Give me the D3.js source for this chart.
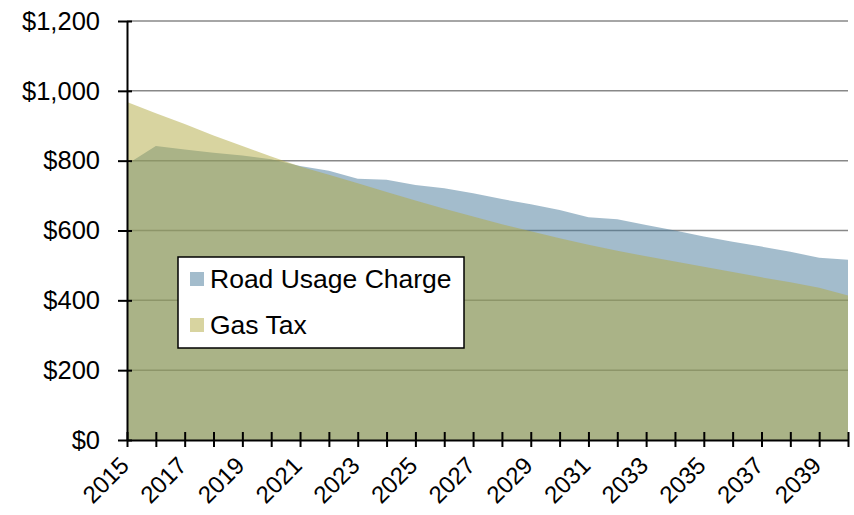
<!DOCTYPE html>
<html>
<head>
<meta charset="utf-8">
<script src="https://cdn.jsdelivr.net/npm/d3@7"></script>
<style>
  body { margin: 0; background: #fff; }
  svg { display: block; font-family: "Liberation Sans", Arial, sans-serif; }
</style>
</head>
<body>
<div class="chart"></div>
<script>
// data
const years = d3.range(2015, 2041);
const roadUsage = [790, 842, 832, 823, 815, 804, 785, 771, 748, 745, 730, 721, 707, 690, 675, 659, 638, 632, 616, 600, 583, 568, 554, 539, 522, 516];
const gasTax = [968, 936, 905, 872, 842, 812, 783, 760, 735, 710, 686, 662, 640, 618, 598, 578, 559, 542, 526, 511, 496, 481, 466, 452, 436, 414];
const yTicks = [0, 200, 400, 600, 800, 1000, 1200];
const seriesNames = ["Road Usage Charge", "Gas Tax"];

const width = 854, height = 515;
const margin = {top: 21, right: 6, bottom: 75, left: 127};
const fontSize = 25.5;

const svg = d3.select(".chart").append("svg")
    .attr("width", width)
    .attr("height", height);

const x = d3.scaleLinear()
    .domain([2015, 2040])
    .range([margin.left, width - margin.right]);

const y = d3.scaleLinear()
    .domain([0, 1200])
    .range([height - margin.bottom, margin.top]);

//gridlines
svg.append("g")
    .selectAll("line")
    .data(yTicks.slice(1))
    .join("line")
    .attr("x1", x(2015))
    .attr("x2", x(2040))
    .attr("y1", d => y(d))
    .attr("y2", d => y(d))
    .attr("stroke", "#888")
    .attr("stroke-width", 1.5);

//areas
const area = vals => d3.area()
    .x((d, i) => x(years[i]))
    .y0(y(0))
    .y1(d => y(d))(vals);

svg.append("path")
    .attr("d", area(roadUsage))
    .attr("fill", "#477999")
    .attr("fill-opacity", 0.5);

svg.append("path")
    .attr("d", area(gasTax))
    .attr("fill", "#b1a941")
    .attr("fill-opacity", 0.5);

//y axis
const yAxis = svg.append("g")
    .attr("transform", `translate(${margin.left},0)`)
    .call(d3.axisLeft(y)
        .tickValues(yTicks)
        .tickFormat(d => "$" + d3.format(",")(d))
        .tickSizeOuter(0));
yAxis.select(".domain").attr("stroke", "#000").attr("stroke-width", 2);
yAxis.selectAll(".tick line").attr("x1", -9).attr("x2", 5).attr("stroke", "#000").attr("stroke-width", 2);
yAxis.selectAll("text")
    .attr("x", -27)
    .attr("font-size", fontSize)
    .attr("fill", "#000");

//x axis
const xAxis = svg.append("g")
    .attr("transform", `translate(0,${y(0)})`)
    .call(d3.axisBottom(x)
        .tickValues(years)
        .tickFormat(d => ((d - 2015) % 2 === 0 && d < 2040) ? d : "")
        .tickSizeOuter(0));
xAxis.select(".domain").attr("stroke", "#000").attr("stroke-width", 2);
xAxis.selectAll(".tick line").attr("y1", -8).attr("y2", 7).attr("stroke", "#000").attr("stroke-width", 2);
xAxis.selectAll("text")
    .attr("y", 0)
    .attr("dy", 0)
    .attr("text-anchor", "end")
    .attr("transform", "translate(3,27) rotate(-45)")
    .attr("font-size", 24)
    .attr("fill", "#000");

//legend
const legend = svg.append("g").attr("transform", "translate(178,257)");
legend.append("rect")
    .attr("width", 286)
    .attr("height", 91)
    .attr("fill", "#fff")
    .attr("stroke", "#000")
    .attr("stroke-width", 1.5);

const legendColors = ["#a3bccc", "#d8d4a0"];
const item = legend.selectAll(".item")
    .data(seriesNames)
    .join("g")
    .attr("class", "item")
    .attr("transform", (d, i) => `translate(12,${15 + i * 46})`);
item.append("rect")
    .attr("width", 14)
    .attr("height", 14)
    .attr("fill", (d, i) => legendColors[i]);
item.append("text")
    .attr("x", 20)
    .attr("y", 16)
    .attr("font-size", 26.5)
    .text(d => d);
</script>
</body>
</html>
